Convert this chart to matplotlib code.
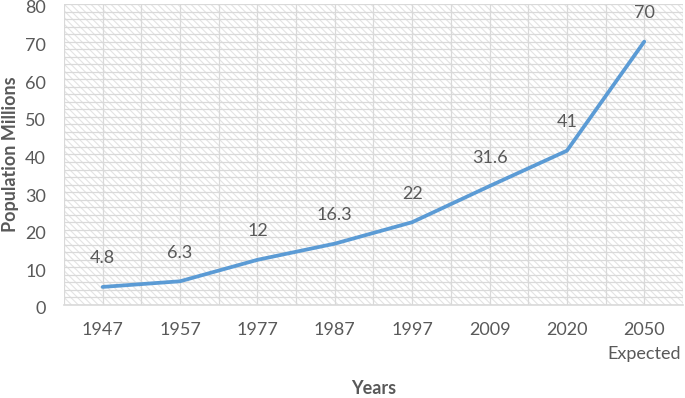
import numpy as np
import matplotlib
matplotlib.use('Agg')
from matplotlib import pyplot as plt
from matplotlib.patches import Rectangle
from matplotlib.ticker import MultipleLocator
from matplotlib.transforms import ScaledTranslation

# population of the country, in millions
years = ['1947', '1957', '1977', '1987', '1997', '2009', '2020', '2050\nExpected']
population = [4.8, 6.3, 12, 16.3, 22, 31.6, 41, 70]

line_color = '#5B9BD5'
text_color = '#595959'
grid_color = '#D9D9D9'

plt.rcParams['font.family'] = ['Lato', 'DejaVu Sans']
plt.rcParams['hatch.linewidth'] = 0.8
plt.rcParams['hatch.color'] = '#E3E3E3'

fig = plt.figure(figsize=(6.85, 3.98), dpi=100)
ax = fig.add_axes([0.0934, 0.2337, 0.9036, 0.7563])

x = np.arange(len(years))

# hatched background of the plot area
bg = Rectangle((0, 0), 1, 1, transform=ax.transAxes, facecolor='white',
               edgecolor='#E3E3E3', hatch='\\\\\\\\\\', linewidth=0, zorder=0)
ax.add_patch(bg)

ax.plot(x, population, color=line_color, lw=2.7, solid_capstyle='round', zorder=3)

# data labels above each point
for xi, val in zip(x, population):
    ax.annotate(f'{val:g}', (xi, val), xytext=(0, 20.5), textcoords='offset points',
                ha='center', va='center', fontsize=13, color=text_color)

ax.set_xlim(-0.5, len(years) - 0.5)
ax.set_ylim(0, 80)
ax.set_xticks(x)
ax.set_xticklabels(years)
ax.yaxis.set_major_locator(MultipleLocator(10))
ax.yaxis.set_minor_locator(MultipleLocator(2))
ax.xaxis.set_minor_locator(MultipleLocator(1, offset=0.5))

ax.grid(True, which='both', color=grid_color, lw=0.9, zorder=1)
ax.set_axisbelow(True)

ax.tick_params(which='both', length=0)
ax.tick_params(axis='y', pad=13, labelsize=13, labelcolor=text_color)
ax.tick_params(axis='x', pad=12, labelsize=13, labelcolor=text_color)
for lbl in ax.get_xticklabels():
    lbl.set_linespacing(1.65)
# y labels sit a little below their gridlines, as in the original
shift = ScaledTranslation(0, -3 / 100, fig.dpi_scale_trans)
for lbl in ax.get_yticklabels():
    lbl.set_transform(lbl.get_transform() + shift)

for side in ['top', 'right', 'left']:
    ax.spines[side].set_visible(False)
ax.spines['bottom'].set_color(grid_color)
ax.spines['bottom'].set_linewidth(1.2)

ax.set_xlabel('Years', fontsize=13, fontweight='bold', color=text_color)
ax.set_ylabel('Population Millions', fontsize=13, fontweight='bold', color=text_color)
ax.xaxis.set_label_coords(0.5, -0.279)
ax.yaxis.set_label_coords(-0.087, 0.5)
ax.xaxis.label.set_va('center')
ax.yaxis.label.set_va('center')

fig.savefig('out.png', dpi=100)
